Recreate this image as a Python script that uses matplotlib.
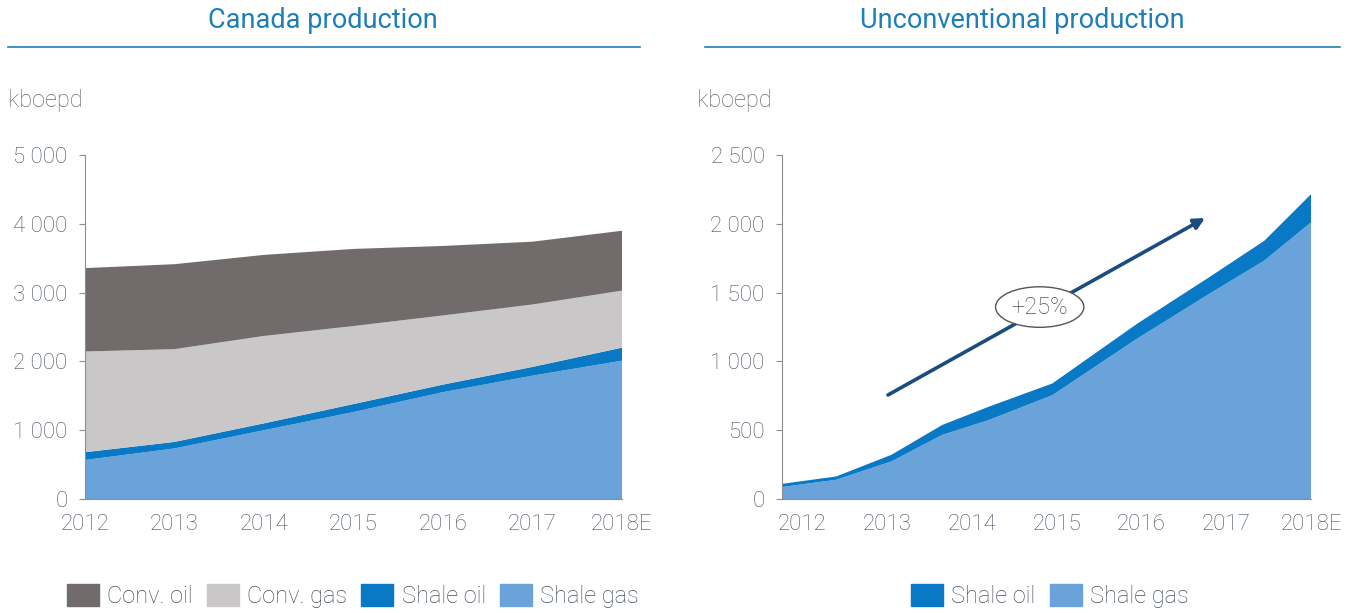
import matplotlib
matplotlib.use('Agg')
import matplotlib.pyplot as plt
from matplotlib.patches import Patch
import numpy as np

plt.rcParams['font.family'] = ['Roboto', 'DejaVu Sans']

# Canada production (kboepd), layer thickness
years = [2012, 2013, 2014, 2015, 2016, 2017, 2018]
year_labels = ['2012', '2013', '2014', '2015', '2016', '2017', '2018E']
shale_gas = [567, 735, 1000, 1264, 1553, 1793, 2010]
shale_oil = [113, 95, 100, 116, 110, 127, 190]
conv_gas = [1464, 1348, 1270, 1134, 1005, 907, 829]
conv_oil = [1212, 1235, 1178, 1121, 1010, 913, 870]

# Unconventional production (kboepd)
u_x = [2011.76, 2012.4, 2013.05, 2013.65, 2014.2, 2014.95, 2015.95, 2016.8, 2017.45, 2018.0]
u_shale_gas = [87, 140, 273, 466, 574, 755, 1166, 1491, 1733, 2010]
u_shale_oil = [23, 24, 48, 72, 97, 85, 108, 121, 144, 205]

c_conv_oil = '#716b6c'
c_conv_gas = '#c9c7c8'
c_shale_oil = '#0a79c5'
c_shale_gas = '#6aa3da'
c_title = '#1d7fb8'
c_text = '#46525e'
c_axis = '#8a8f94'

fig = plt.figure(figsize=(13.59, 6.13), dpi=100)

W, H = 1359.0, 613.0
ax1 = fig.add_axes([85 / W, 1 - 499 / H, (622 - 85) / W, (499 - 155) / H])
ax2 = fig.add_axes([782 / W, 1 - 499 / H, (1311 - 782) / W, (499 - 155) / H])

ax1.stackplot(years, shale_gas, shale_oil, conv_gas, conv_oil,
              colors=[c_shale_gas, c_shale_oil, c_conv_gas, c_conv_oil], linewidth=0)
ax1.set_xlim(2012, 2018)
ax1.set_ylim(0, 5000)
ax1.set_yticks([0, 1000, 2000, 3000, 4000, 5000])
ax1.set_yticklabels(['0', '1 000', '2 000', '3 000', '4 000', '5 000'])
ax1.set_xticks(years)
ax1.set_xticklabels(year_labels)

ax2.stackplot(u_x, u_shale_gas, u_shale_oil,
              colors=[c_shale_gas, c_shale_oil], linewidth=0)
ax2.set_xlim(2011.76, 2018.0)
ax2.set_ylim(0, 2500)
ax2.set_yticks([0, 500, 1000, 1500, 2000, 2500])
ax2.set_yticklabels(['0', '500', '1 000', '1 500', '2 000', '2 500'])
ax2.set_xticks(years)
ax2.set_xticklabels(year_labels)

for ax in (ax1, ax2):
    for s in ['top', 'right']:
        ax.spines[s].set_visible(False)
    ax.spines['left'].set_color(c_axis)
    ax.spines['bottom'].set_color(c_axis)
    ax.tick_params(axis='y', length=4.5, color=c_axis, labelsize=16, labelcolor=c_text, pad=8)
    ax.tick_params(axis='x', length=0, labelsize=16, labelcolor=c_text, pad=11)
    for lbl in ax.get_xticklabels() + ax.get_yticklabels():
        lbl.set_fontweight('light')

# arrow with +25% label
ax2.annotate('', xy=(2016.75, 2042), xytext=(2013.01, 756),
             arrowprops=dict(arrowstyle='-|>', color='#1b4c80', lw=2.6,
                             mutation_scale=16, shrinkA=0, shrinkB=0))
ax2.text(2014.8, 1395, '+25%', ha='center', va='center', fontsize=17, color=c_text,
         fontweight='light',
         bbox=dict(boxstyle='ellipse,pad=0.12', fc='white', ec='#555555', lw=1))

# titles and rules
fig.text(323 / W, 1 - 21 / H, 'Canada production', ha='center', va='center',
         fontsize=19.5, color=c_title)
fig.text(1022 / W, 1 - 21 / H, 'Unconventional production', ha='center', va='center',
         fontsize=19.5, color=c_title)
fig.add_artist(plt.Line2D([8 / W, 640 / W], [1 - 47 / H, 1 - 47 / H], color=c_title, lw=1.2))
fig.add_artist(plt.Line2D([705 / W, 1340 / W], [1 - 47 / H, 1 - 47 / H], color=c_title, lw=1.2))

fig.text(8 / W, 1 - 100 / H, 'kboepd', ha='left', va='center', fontsize=17,
         color='#6b6b6b', fontweight='light')
fig.text(697 / W, 1 - 100 / H, 'kboepd', ha='left', va='center', fontsize=17,
         color='#6b6b6b', fontweight='light')

# legends
h1 = [Patch(color=c_conv_oil, label='Conv. oil'),
      Patch(color=c_conv_gas, label='Conv. gas'),
      Patch(color=c_shale_oil, label='Shale oil'),
      Patch(color=c_shale_gas, label='Shale gas')]
leg_kw = dict(loc='center', frameon=False, fontsize=17, handlelength=1.35, handleheight=1.05,
              handletextpad=0.35, columnspacing=0.6, borderpad=0)
leg1 = fig.legend(handles=h1, bbox_to_anchor=(353 / W, 1 - 596 / H), ncol=4, **leg_kw)
leg2 = fig.legend(handles=h1[2:], bbox_to_anchor=(1050 / W, 1 - 596 / H), ncol=2, **leg_kw)
for leg in (leg1, leg2):
    for t in leg.get_texts():
        t.set_color(c_text)
        t.set_fontweight('light')

fig.savefig('out.png', dpi=100)
